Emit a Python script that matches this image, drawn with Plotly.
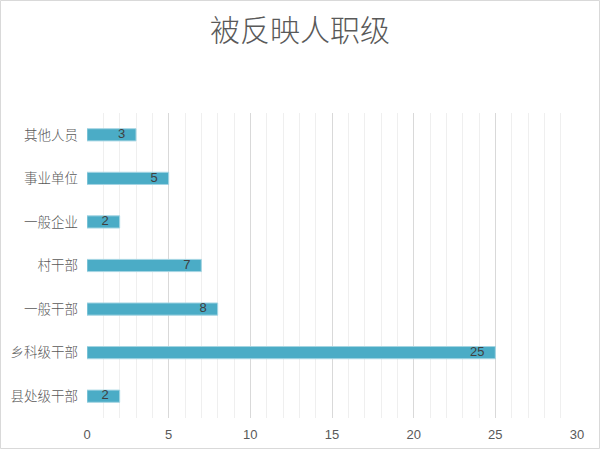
import plotly.graph_objects as go

# Categories listed bottom to top, as plotted
categories = ["县处级干部", "乡科级干部", "一般干部", "村干部", "一般企业", "事业单位", "其他人员"]
counts = [2, 25, 8, 7, 2, 5, 3]
x_ticks = [0, 5, 10, 15, 20, 25, 30]

W, H = 600, 449
ML, MR, MT, MB = 87, 23, 113, 31
pw, ph = W - ML - MR, H - MT - MB

fig = go.Figure()
fig.add_trace(go.Bar(
    x=counts, y=categories, orientation="h",
    marker=dict(color="#4BACC6", line=dict(color="#A5D5E3", width=1)),
    width=0.28, hoverinfo="x+y",
))
# value labels at the inner end of each bar
fig.add_trace(go.Scatter(
    x=counts, y=categories, mode="text",
    text=[f"{v}   " for v in counts], textposition="middle left",
    textfont=dict(color="#404040", size=13, family="Liberation Sans"),
    hoverinfo="skip",
))

fig.update_layout(
    width=W, height=H,
    margin=dict(l=ML, r=MR, t=MT, b=MB),
    paper_bgcolor="white", plot_bgcolor="white",
    showlegend=False,
    title=dict(text="被反映人职级", x=0.5, xref="container", xanchor="center",
               y=1 - 30 / H, yanchor="middle",
               font=dict(family="Noto Sans CJK SC", size=30, color="#595959", weight=300)),
    xaxis=dict(range=[0, 30], tickvals=x_ticks, showgrid=True, gridcolor="#D9D9D9",
               gridwidth=1, zeroline=False, showline=False, ticklabelstandoff=7,
               automargin=False,
               tickfont=dict(family="Liberation Sans", size=13, color="#595959"),
               minor=dict(dtick=1, showgrid=True, gridcolor="#EFEFEF", gridwidth=1),
               fixedrange=True),
    yaxis=dict(showgrid=False, zeroline=False, showline=False, ticks="",
               ticklabelstandoff=8, automargin=False,
               tickfont=dict(family="Noto Sans CJK SC", size=13.5, color="#595959",
                             weight=300)),
    # thin frame around the whole chart
    shapes=[dict(type="rect", xref="paper", yref="paper",
                 x0=(0.5 - ML) / pw, x1=(W - 0.5 - ML) / pw,
                 y0=-(MB - 0.5) / ph, y1=(H - MB - 0.5) / ph,
                 line=dict(color="#D9D9D9", width=1))],
)

fig.write_html("out.html", config={"displayModeBar": False},
               post_script="document.body.style.margin='0';")
